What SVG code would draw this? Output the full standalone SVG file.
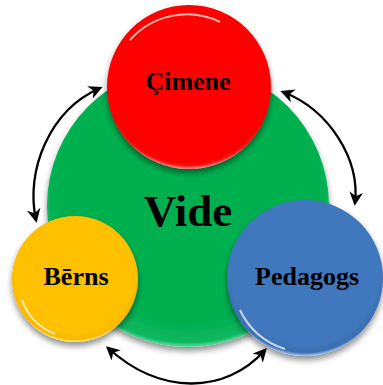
<svg xmlns="http://www.w3.org/2000/svg" width="383" height="385" viewBox="0 0 383 385">
<defs>
<radialGradient id="gG" cx="0.5" cy="0.45" r="0.55">
<stop offset="0.85" stop-color="#00b050"/>
<stop offset="0.97" stop-color="#10b860"/>
<stop offset="1" stop-color="#5fe0a0"/>
</radialGradient>
<radialGradient id="gR" cx="0.5" cy="0.45" r="0.55">
<stop offset="0.86" stop-color="#ff0000"/>
<stop offset="0.96" stop-color="#f80808"/>
<stop offset="1" stop-color="#ff9090"/>
</radialGradient>
<radialGradient id="gY" cx="0.5" cy="0.45" r="0.55">
<stop offset="0.86" stop-color="#ffc000"/>
<stop offset="0.96" stop-color="#f8b800"/>
<stop offset="1" stop-color="#fff080"/>
</radialGradient>
<radialGradient id="gB" cx="0.5" cy="0.45" r="0.55">
<stop offset="0.86" stop-color="#4178be"/>
<stop offset="0.96" stop-color="#3a6fb0"/>
<stop offset="1" stop-color="#a8c8f0"/>
</radialGradient>
<filter id="sh" x="-20%" y="-20%" width="140%" height="150%">
<feGaussianBlur in="SourceAlpha" stdDeviation="3"/>
<feOffset dx="0" dy="4"/>
<feComponentTransfer><feFuncA type="linear" slope="0.45"/></feComponentTransfer>
<feMerge><feMergeNode/><feMergeNode in="SourceGraphic"/></feMerge>
</filter>
<marker id="ah" viewBox="0 0 10 10" refX="8" refY="5" markerWidth="6" markerHeight="6" orient="auto-start-reverse">
<path d="M0,0 L10,5 L0,10 L3,5 z" fill="#000"/>
</marker>
<style>
.lbl{font-family:"Liberation Serif","Times New Roman",serif;font-weight:bold;fill:#000;text-anchor:middle}
.arc{fill:none;stroke:#000;stroke-width:2.3;marker-start:url(#ah);marker-end:url(#ah)}
.hl{fill:none;stroke:#fff;stroke-opacity:0.7;stroke-width:2}
</style>
</defs>
<g id="connectors">
<path class="arc" d="M100,88 C50,110 25,170 36,220"/>
<path class="arc" d="M283,92 C330,110 360,160 355,203"/>
<path class="arc" d="M108,348 C160,395 225,395 265,350"/>
</g>
<g id="vide">
<circle cx="188" cy="206" r="141" fill="url(#gG)" filter="url(#sh)"/>
<text class="lbl" x="188" y="226" font-size="45">Vide</text>
</g>
<g id="cimene">
<circle cx="189" cy="87" r="82" fill="url(#gR)" filter="url(#sh)"/>
<path class="hl" d="M130,40 A76,76 0 0 1 220,22"/>
<text class="lbl" x="188" y="90" font-size="26">Çimene</text>
</g>
<g id="berns">
<circle cx="75" cy="279" r="63" fill="url(#gY)" filter="url(#sh)"/>
<path class="hl" d="M22,300 A58,58 0 0 0 55,334"/>
<text class="lbl" x="76" y="285" font-size="26">Bērns</text>
</g>
<g id="pedagogs">
<circle cx="305" cy="278" r="78" fill="url(#gB)" filter="url(#sh)"/>
<path class="hl" d="M240,310 A72,72 0 0 0 285,349"/>
<text class="lbl" x="307" y="285" font-size="26">Pedagogs</text>
</g>
</svg>
